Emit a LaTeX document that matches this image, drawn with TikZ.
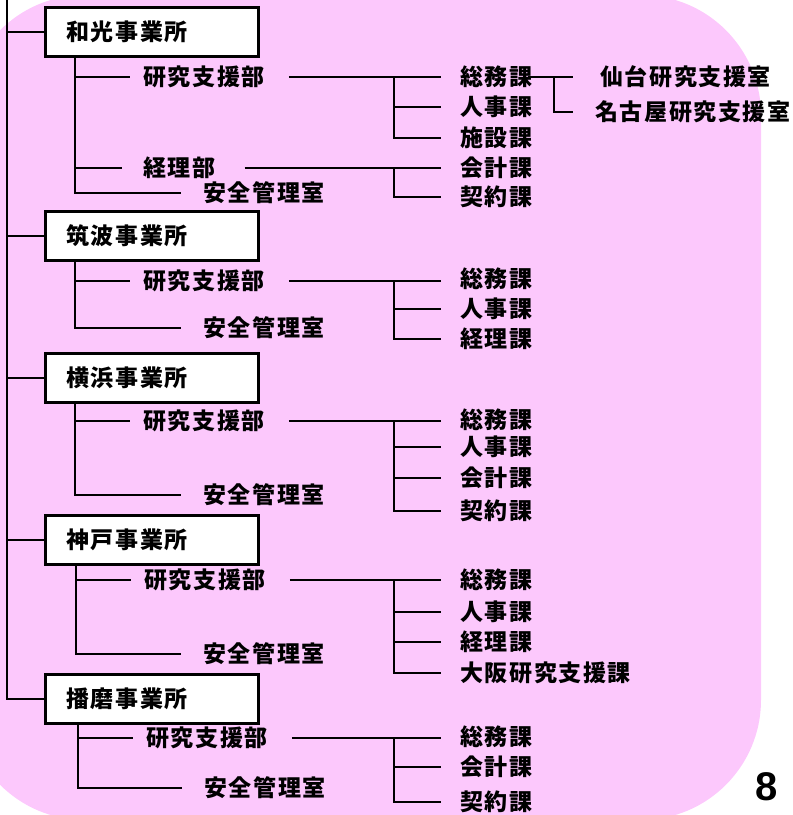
\documentclass[tikz,border=0pt]{standalone}
\usepackage{fontspec}
\setsansfont{Liberation Sans}
\newfontfamily\jp[LetterSpace=7]{Noto Sans CJK JP}
\usetikzlibrary{calc}
\definecolor{bgpink}{RGB}{252,200,252}
\tikzset{
  office/.style={draw, line width=2.5pt, fill=white, anchor=north west, inner xsep=21pt,
    text width=171pt, minimum height=49pt, font=\jp\bfseries\fontsize{23}{23}\selectfont},
  unit/.style={anchor=west, inner sep=0pt, font=\jp\bfseries\fontsize{23}{23}\selectfont},
  link/.style={line width=1.8pt}
}
\begin{document}
\begin{tikzpicture}[x=1pt,y=-1pt]
\useasboundingbox (0,0) rectangle (793,815);
\fill[bgpink, rounded corners=120pt] (-35,-5) rectangle (761,820);
% offices
\node[office] (wk) at (44,6) {和光事業所};
\node[office] (tk) at (44,210) {筑波事業所};
\node[office] (yh) at (44,352) {横浜事業所};
\node[office] (kb) at (44,514) {神戸事業所};
\node[office] (hm) at (44,673) {播磨事業所};
% departments
\node[unit] (wk-ken) at (143,77) {研究支援部};
\node[unit] (wk-kei) at (143,168) {経理部};
\node[unit] (wk-an) at (203,193) {安全管理室};
\node[unit] (tk-ken) at (143,281) {研究支援部};
\node[unit] (tk-an) at (203,328) {安全管理室};
\node[unit] (yh-ken) at (143,421) {研究支援部};
\node[unit] (yh-an) at (203,495) {安全管理室};
\node[unit] (kb-ken) at (144,580) {研究支援部};
\node[unit] (kb-an) at (203,654) {安全管理室};
\node[unit] (hm-ken) at (146,738) {研究支援部};
\node[unit] (hm-an) at (204,788) {安全管理室};
% sections
\node[unit] (wk-so) at (460,77) {総務課};
\node[unit] (wk-ji) at (460,107) {人事課};
\node[unit] (wk-si) at (460,138) {施設課};
\node[unit] (wk-ka) at (460,168) {会計課};
\node[unit] (wk-ke) at (460,197) {契約課};
\node[unit] (wk-sd) at (600,77) {仙台研究支援室};
\node[unit] (wk-ng) at (595,112) {名古屋研究支援室};
\node[unit] (tk-so) at (460,279) {総務課};
\node[unit] (tk-ji) at (460,309) {人事課};
\node[unit] (tk-kr) at (460,339) {経理課};
\node[unit] (yh-so) at (460,420) {総務課};
\node[unit] (yh-ji) at (460,447) {人事課};
\node[unit] (yh-ka) at (460,478) {会計課};
\node[unit] (yh-ke) at (460,511) {契約課};
\node[unit] (kb-so) at (460,580) {総務課};
\node[unit] (kb-ji) at (460,612) {人事課};
\node[unit] (kb-kr) at (460,642) {経理課};
\node[unit] (kb-os) at (460,673) {大阪研究支援課};
\node[unit] (hm-so) at (460,737) {総務課};
\node[unit] (hm-ka) at (460,767) {会計課};
\node[unit] (hm-ke) at (460,802) {契約課};
\node[font=\sffamily\bfseries\fontsize{40}{40}\selectfont] (pg) at (767,787) {8};
% spines
\coordinate (root) at (7,-5);
\coordinate (rx) at (394,0);
\coordinate (sx) at (554,0);
\draw[link] (root) |- (hm.west);
\foreach \o in {wk,tk,yh,kb} \draw[link] (root |- \o.west) -- (\o.west);
\foreach \o/\dx in {wk/31,tk/31,yh/31,kb/32,hm/34} {
  \coordinate (\o-l) at ($(\o.south west)+(\dx,0)$);
  \draw[link] (\o-l) |- ($(\o-an.west)+(-22,0)$);
  \draw[link] (\o-l |- \o-ken.west) -- ($(\o-ken.west)+(-13,0)$);
}
\draw[link] (wk-l |- wk-kei.west) -- ($(wk-kei.west)+(-21,0)$);
\foreach \p/\f/\l/\g in {wk-ken/wk-so/wk-si/24, wk-kei/wk-ka/wk-ke/29, tk-ken/tk-so/tk-kr/24,
    yh-ken/yh-so/yh-ke/24, kb-ken/kb-so/kb-os/24, hm-ken/hm-so/hm-ke/24} {
  \draw[link] ($(\p.east)+(\g,0)$) -- ($(\p.east -| \f.west)+(-19,0)$);
  \draw[link] (rx |- \p.east) |- ($(\l.west)+(-19,0)$);
}
\foreach \c in {wk-ji,tk-ji,yh-ji,yh-ka,kb-ji,kb-kr,hm-ka}
  \draw[link] (rx |- \c.west) -- ($(\c.west)+(-19,0)$);
\draw[link] ($(wk-so.east)+(-5,0)$) -- ($(wk-so.east -| wk-sd.west)+(-27,0)$);
\draw[link] (sx |- wk-so.east) |- ($(wk-ng.west)+(-22,0)$);
\end{tikzpicture}
\end{document}
